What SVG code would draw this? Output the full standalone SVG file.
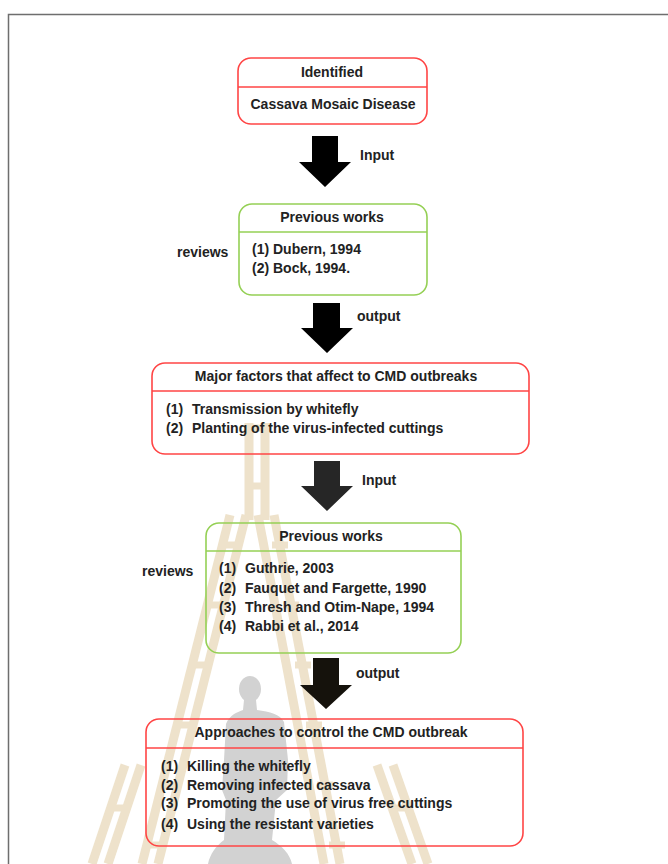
<svg xmlns="http://www.w3.org/2000/svg" width="668" height="864" viewBox="0 0 668 864">
<style>
  text { font-family: "Liberation Sans", Arial, sans-serif; font-weight: bold; font-size: 14px; fill: #222222; }
  .title { text-anchor: middle; }
  .red { fill: none; stroke: #ff4545; stroke-width: 1.6; }
  .green { fill: none; stroke: #95d055; stroke-width: 1.6; }
  .rail { stroke: #eee2cb; stroke-width: 9; fill: none; }
  .rung { stroke: #eee2cb; stroke-width: 7; }
  .arrow { stroke: none; }
</style>
<rect x="0" y="0" width="668" height="864" fill="#ffffff"/>
<path d="M8.5,864 V14.5 H668" fill="none" stroke="#6e6e6e" stroke-width="1.5"/>

<g id="watermark">
  <!-- top single ladder -->
  <line class="rail" x1="249" y1="423" x2="249" y2="520"/>
  <line class="rail" x1="265" y1="423" x2="265" y2="520"/>
  <line class="rung" x1="249" y1="428" x2="265" y2="428"/>
  <line class="rung" x1="249" y1="486" x2="265" y2="486"/>
  <!-- left ladder -->
  <line class="rail" x1="230" y1="515" x2="142" y2="864"/>
  <line class="rail" x1="246" y1="515" x2="158" y2="864"/>
  <line class="rung" x1="223" y1="545" x2="239" y2="545"/>
  <line class="rung" x1="208" y1="605" x2="224" y2="605"/>
  <line class="rung" x1="193" y1="665" x2="209" y2="665"/>
  <line class="rung" x1="178" y1="725" x2="194" y2="725"/>
  <line class="rung" x1="163" y1="785" x2="179" y2="785"/>
  <line class="rung" x1="148" y1="845" x2="164" y2="845"/>
  <!-- right ladder -->
  <line class="rail" x1="258" y1="515" x2="324" y2="864"/>
  <line class="rail" x1="274" y1="515" x2="340" y2="864"/>
  <line class="rung" x1="272" y1="545" x2="288" y2="545"/>
  <line class="rung" x1="283" y1="605" x2="299" y2="605"/>
  <line class="rung" x1="295" y1="665" x2="311" y2="665"/>
  <line class="rung" x1="306" y1="725" x2="322" y2="725"/>
  <line class="rung" x1="317" y1="785" x2="333" y2="785"/>
  <line class="rung" x1="329" y1="845" x2="345" y2="845"/>
  <!-- small side ladders -->
  <line class="rail" x1="125" y1="765" x2="92" y2="864"/>
  <line class="rail" x1="141" y1="765" x2="108" y2="864"/>
  <line class="rung" x1="113" y1="808" x2="129" y2="808"/>
  <line class="rail" x1="377" y1="765" x2="412" y2="864"/>
  <line class="rail" x1="393" y1="765" x2="428" y2="864"/>
  <line class="rung" x1="390" y1="808" x2="406" y2="808"/>
  <!-- figure -->
  <ellipse cx="250" cy="689" rx="11" ry="13" fill="#d2d2d2"/>
  <path d="M244,700 L256,700 L257,710 C270,712 280,714 284,722 L288,760 L287,790 L276,800 L272,840 C282,846 290,854 292,864 L208,864 C210,854 216,846 224,840 L226,800 L222,790 L224,760 L226,724 C230,714 238,712 243,710 Z" fill="#d2d2d2"/>
</g>

<g id="connectors">
  <polygon class="arrow" fill="#000000" points="312,136 338,136 338,162 351,162 325,187 299,162 312,162"/>
  <text x="360" y="160">Input</text>
  <polygon class="arrow" fill="#000000" points="313,303 340,303 340,328 353,328 327,353 301,328 313,328"/>
  <text x="357" y="321">output</text>
  <polygon class="arrow" fill="#262626" points="314,461 340,461 340,486 353,486 327,511 301,486 314,486"/>
  <text x="362" y="485">Input</text>
  <polygon class="arrow" fill="#15120c" points="313,658 339,658 339,685 352,685 326,709 300,685 313,685"/>
  <text x="356" y="678">output</text>
</g>

<g id="node-identified">
  <rect class="red" x="238" y="58" width="189" height="66" rx="13"/>
  <line class="red" x1="238" y1="87" x2="427" y2="87"/>
  <text class="title" x="332" y="77">Identified</text>
  <text class="title" x="333" y="109">Cassava Mosaic Disease</text>
</g>

<g id="node-previous-works-1">
  <rect class="green" x="239" y="204" width="188" height="91" rx="13"/>
  <line class="green" x1="239" y1="232" x2="427" y2="232"/>
  <text class="title" x="332" y="222">Previous works</text>
  <text x="252" y="254">(1) Dubern, 1994</text>
  <text x="252" y="273">(2) Bock, 1994.</text>
</g>
<g id="label-reviews-1">
  <text x="177" y="257">reviews</text>
</g>

<g id="node-major-factors">
  <rect class="red" x="152" y="363" width="377" height="91" rx="13"/>
  <line class="red" x1="152" y1="391" x2="529" y2="391"/>
  <text class="title" x="336" y="381">Major factors that affect to CMD outbreaks</text>
  <text x="166" y="414">(1)</text><text x="192" y="414">Transmission by whitefly</text>
  <text x="166" y="433">(2)</text><text x="192" y="433">Planting of the virus-infected cuttings</text>
</g>

<g id="node-previous-works-2">
  <rect class="green" x="206" y="523" width="255" height="130" rx="13"/>
  <line class="green" x1="206" y1="551" x2="461" y2="551"/>
  <text class="title" x="331" y="541">Previous works</text>
  <text x="219" y="573">(1)</text><text x="245" y="573">Guthrie, 2003</text>
  <text x="219" y="593">(2)</text><text x="245" y="593">Fauquet and Fargette, 1990</text>
  <text x="219" y="612">(3)</text><text x="245" y="612">Thresh and Otim-Nape, 1994</text>
  <text x="219" y="631">(4)</text><text x="245" y="631">Rabbi et al., 2014</text>
</g>
<g id="label-reviews-2">
  <text x="142" y="576">reviews</text>
</g>

<g id="node-approaches">
  <rect class="red" x="146" y="719" width="377" height="127" rx="13"/>
  <line class="red" x1="146" y1="748" x2="523" y2="748"/>
  <text class="title" x="331" y="737">Approaches to control the CMD outbreak</text>
  <text x="161" y="771">(1)</text><text x="187" y="771">Killing the whitefly</text>
  <text x="161" y="790">(2)</text><text x="187" y="790">Removing infected cassava</text>
  <text x="161" y="808">(3)</text><text x="187" y="808">Promoting the use of virus free cuttings</text>
  <text x="161" y="829">(4)</text><text x="187" y="829">Using the resistant varieties</text>
</g>
</svg>
